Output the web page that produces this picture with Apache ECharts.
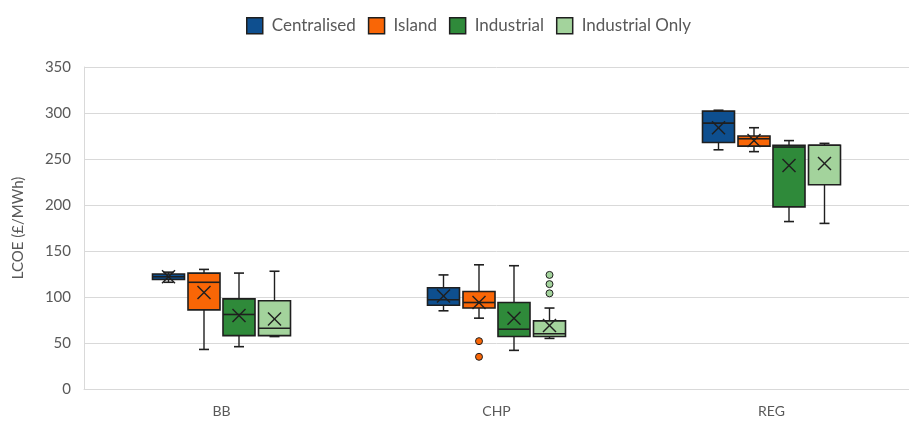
<!DOCTYPE html>
<html>
<head>
<meta charset="utf-8">
<script src="https://cdn.jsdelivr.net/npm/echarts@6/dist/echarts.min.js"></script>
<style>
  html, body { margin: 0; padding: 0; background: #fff; }
  #chart { width: 909px; height: 422px; }
</style>
</head>
<body>
<div id="chart"></div>
<script>
// LCOE distribution by heating scenario
const categories = ['BB', 'CHP', 'REG'];
const seriesNames = ['Centralised', 'Island', 'Industrial', 'Industrial Only'];
const yTicks = [0, 50, 100, 150, 200, 250, 300, 350];

// Five-number summaries [min, Q1, median, Q3, max] per category
const centralisedBox = [[116, 119, 122, 125, 127], [85, 91, 97, 110, 124], [260, 268, 289, 302, 303]];
const islandBox      = [[43, 86, 116, 126, 130], [77, 88, 94, 106, 135], [258, 264, 272, 275, 284]];
const industrialBox  = [[46, 58, 81, 98, 126], [42, 57, 65, 94, 134], [182, 198, 263, 265, 270]];
const indOnlyBox     = [[57, 58, 66, 96, 128], [55, 57, 60, 74, 88], [180, 222, 265, 265, 267]];

// Means (drawn as ×)
const centralisedMean = [122, 101, 284];
const islandMean      = [105, 94, 270];
const industrialMean  = [80, 77, 243];
const indOnlyMean     = [76, 69, 245];

// Outliers as [categoryIndex, value]
const islandOutliers  = [[1, 52], [1, 35]];
const indOnlyOutliers = [[1, 124], [1, 114], [1, 104]];

const colors = ['#0e4f8f', '#f96606', '#2f8a3a', '#a3d39c'];
const boxes = [centralisedBox, islandBox, industrialBox, indOnlyBox];
const means = [centralisedMean, islandMean, industrialMean, indOnlyMean];
const offsets = [-53, -17.5, 17.5, 53];
const BOX_W = 32;
const CAP_W = 10;
const X_HALF = 6.5;
const EDGE = '#1f1f1f';

function makeRender(si) {
  return function (params, api) {
    const cat = api.value(0);
    const cx = api.coord([cat, 0])[0] + offsets[si];
    const y = v => api.coord([cat, api.value(v)])[1];
    const yMin = y(1), yQ1 = y(2), yMed = y(3), yQ3 = y(4), yMax = y(5), yMean = y(6);
    const l = cx - BOX_W / 2;
    const line = (x1, y1, x2, y2, w) => ({
      type: 'line', shape: { x1, y1, x2, y2 },
      style: { stroke: EDGE, lineWidth: w || 1.4 }
    });
    return {
      type: 'group',
      children: [
        line(cx, yMax, cx, yQ3),
        line(cx, yQ1, cx, yMin),
        line(cx - CAP_W / 2, yMax, cx + CAP_W / 2, yMax, 1.6),
        line(cx - CAP_W / 2, yMin, cx + CAP_W / 2, yMin, 1.6),
        {
          type: 'rect',
          shape: { x: l, y: yQ3, width: BOX_W, height: yQ1 - yQ3 },
          style: { fill: colors[si], stroke: EDGE, lineWidth: 1.6 }
        },
        line(l, yMed, l + BOX_W, yMed, 1.6),
        line(cx - X_HALF, yMean - X_HALF, cx + X_HALF, yMean + X_HALF, 1.4),
        line(cx - X_HALF, yMean + X_HALF, cx + X_HALF, yMean - X_HALF, 1.4)
      ]
    };
  };
}

const series = seriesNames.map((name, si) => ({
  name,
  type: 'custom',
  renderItem: makeRender(si),
  itemStyle: { color: colors[si], borderColor: EDGE },
  encode: { x: 0, y: [1, 2, 3, 4, 5, 6] },
  data: boxes[si].map((b, ci) => [ci, ...b, means[si][ci]]),
  z: 3
}));

series.push({
  name: 'Island outliers',
  type: 'scatter',
  data: islandOutliers,
  symbol: 'circle',
  symbolSize: 7,
  symbolOffset: [offsets[1], 0],
  itemStyle: { color: colors[1], borderColor: EDGE, borderWidth: 1, opacity: 1 },
  z: 4
});
series.push({
  name: 'Industrial Only outliers',
  type: 'scatter',
  data: indOnlyOutliers,
  symbol: 'circle',
  symbolSize: 7,
  symbolOffset: [offsets[3], 0],
  itemStyle: { color: colors[3], borderColor: EDGE, borderWidth: 1, opacity: 1 },
  z: 4
});

const chart = echarts.init(document.getElementById('chart'), null, { renderer: 'canvas' });
const FONT = 'Lato, "Open Sans", sans-serif';

chart.setOption({
  animation: false,
  textStyle: { fontFamily: FONT },
  legend: {
    top: 12,
    left: 241,
    itemWidth: 16,
    itemHeight: 16,
    itemGap: 12,
    textStyle: { color: '#595959', fontSize: 17, fontFamily: FONT, padding: [0, 0, 0, 4] },
    data: seriesNames.map((n, i) => ({
      name: n,
      icon: 'rect',
      itemStyle: { color: colors[i], borderColor: EDGE, borderWidth: 1.5 }
    }))
  },
  grid: { left: 84, right: -6, top: 67, bottom: 33 },
  xAxis: {
    type: 'category',
    data: categories,
    axisLine: { lineStyle: { color: '#d9d9d9', width: 1 } },
    axisTick: { show: false },
    axisLabel: { color: '#595959', fontSize: 14, margin: 15, fontFamily: FONT },
    splitLine: { show: false }
  },
  yAxis: {
    type: 'value',
    min: yTicks[0],
    max: yTicks[yTicks.length - 1],
    interval: yTicks[1] - yTicks[0],
    name: 'LCOE (£/MWh)',
    nameLocation: 'middle',
    nameGap: 58,
    nameTextStyle: { color: '#595959', fontSize: 15, fontFamily: FONT },
    axisLine: { show: true, lineStyle: { color: '#d9d9d9', width: 1 } },
    axisTick: { show: false },
    axisLabel: { color: '#595959', fontSize: 15, margin: 13, fontFamily: FONT },
    splitLine: { lineStyle: { color: '#d9d9d9', width: 1 } }
  },
  series
});
</script>
</body>
</html>
